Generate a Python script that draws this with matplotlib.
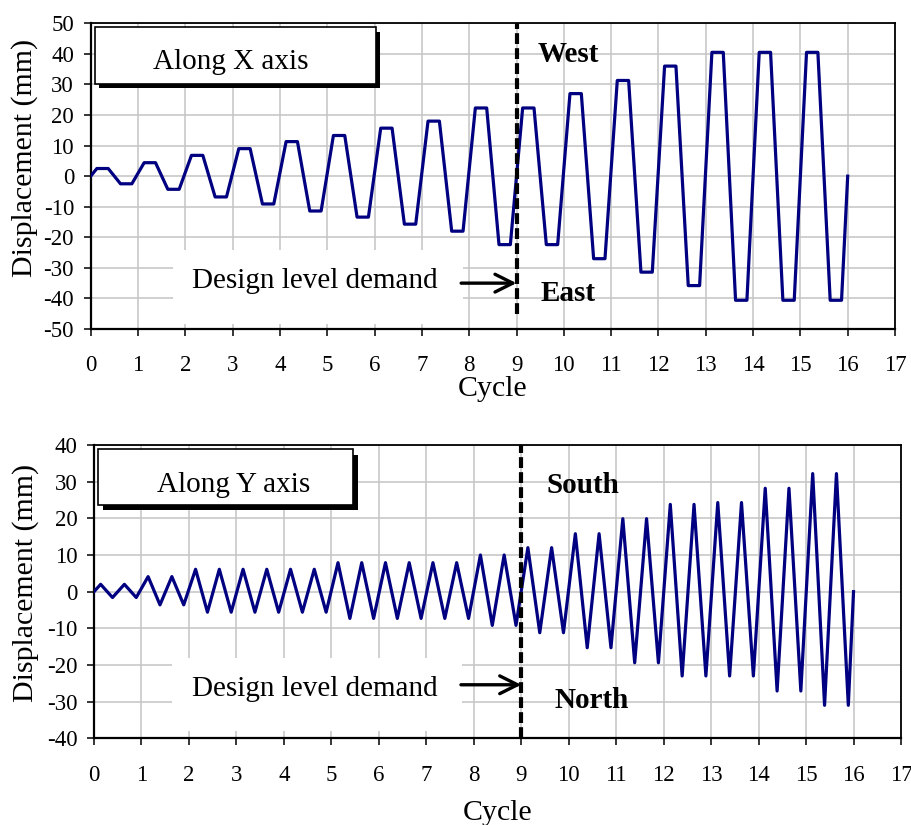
import matplotlib
matplotlib.use('Agg')
import matplotlib.pyplot as plt
from matplotlib.patches import Rectangle

plt.rcParams['font.family'] = ['Liberation Serif', 'DejaVu Serif']
plt.rcParams['axes.unicode_minus'] = False

# ---------------- data ----------------
n_cycles = 16
# Along X axis: trapezoidal cycles (plateau values per cycle)
x_peaks = [2.5, 4.4, 6.8, 9.0, 11.3, 13.3, 15.7, 18.0, 22.3, 22.3, 27.0, 31.3, 36.0, 40.5, 40.5, 40.5]
x_troughs = [-2.5, -4.3, -6.8, -9.1, -11.4, -13.4, -15.7, -18.0, -22.4, -22.4, -27.0, -31.4, -35.8, -40.6, -40.6, -40.6]
# Along Y axis: two triangular sub-cycles per cycle
y_peaks = [2.0, 4.1, 6.1, 6.1, 6.1, 7.9, 7.9, 7.9, 10.0, 12.0, 15.8, 19.9, 23.8, 24.3, 28.2, 32.2]
y_troughs = [-1.6, -3.6, -5.6, -5.6, -5.6, -7.3, -7.3, -7.3, -9.2, -11.2, -15.3, -19.4, -23.0, -23.0, -27.1, -31.0]

x_ticks = list(range(0, 18))
top_yticks = list(range(-50, 51, 10))
bot_yticks = list(range(-40, 41, 10))
design_cycle = 9


def trapezoid(peaks, troughs):
    xs, ys = [0], [0]
    for c, (p, q) in enumerate(zip(peaks, troughs)):
        xs += [c + 0.13, c + 0.37, c + 0.63, c + 0.87]
        ys += [p, p, q, q]
    xs.append(len(peaks)); ys.append(0)
    return xs, ys


def triangle(peaks, troughs):
    xs, ys = [0], [0]
    for c, (p, q) in enumerate(zip(peaks, troughs)):
        xs += [c + 0.14, c + 0.39, c + 0.64, c + 0.89]
        ys += [p, q, p, q]
    xs.append(len(peaks)); ys.append(0)
    return xs, ys


W, H = 912, 825
fig = plt.figure(figsize=(W / 100, H / 100), dpi=100)

ax1 = fig.add_axes([90.7 / W, 1 - 329 / H, (895 - 90.7) / W, (329 - 23.3) / H])
ax2 = fig.add_axes([94 / W, 1 - 738.3 / H, (901 - 94) / W, (738.3 - 445) / H])

line_color = '#000080'
grid_color = '#c4c4c4'
tick_fs = 16.5
label_fs = 21.5
text_fs = 21


def style(ax, yticks):
    ax.set_xlim(0, 17)
    ax.set_ylim(yticks[0], yticks[-1])
    ax.set_xticks(x_ticks)
    ax.set_yticks(yticks)
    ax.set_axisbelow(True)
    ax.grid(True, color=grid_color, lw=1.1)
    for s in ax.spines.values():
        s.set_color('black')
        s.set_linewidth(1.3)
    ax.spines['left'].set_linewidth(1.6)
    ax.spines['bottom'].set_linewidth(1.6)
    ax.tick_params(axis='both', direction='out', length=5, width=1.1,
                   labelsize=tick_fs, color='black')
    ax.tick_params(axis='x', pad=14)
    ax.tick_params(axis='y', pad=7)


def title_box(ax, x0, y0, w, h, dx, dy, text, tx, ty):
    ax.add_patch(Rectangle((x0 + dx, y0 - dy), w, h, facecolor='black',
                           edgecolor='black', lw=0, zorder=4))
    ax.add_patch(Rectangle((x0, y0), w, h, facecolor='white',
                           edgecolor='black', lw=1.2, zorder=5))
    ax.text(tx, ty, text, fontsize=text_fs, ha='center', va='baseline', zorder=6)


# ---------------- top chart ----------------
style(ax1, top_yticks)
xs, ys = trapezoid(x_peaks, x_troughs)
ax1.plot(xs, ys, color=line_color, lw=2.3, zorder=3)
ax1.vlines(design_cycle, -45, 50, colors='black', lw=3,
           linestyles=(0, (2.6, 1.0)), zorder=4)
ax1.add_patch(Rectangle((1.73, -48.3), 7.86 - 1.73, 24.0, facecolor='white',
                        edgecolor='none', zorder=1))
ax1.text(4.74, -36.6, 'Design level demand', fontsize=text_fs, ha='center',
         va='baseline', zorder=6)
ax1.annotate('', xy=(design_cycle, -35), xytext=(7.83, -35),
             arrowprops=dict(arrowstyle='->', lw=2.4, color='black',
                             mutation_scale=32, shrinkA=0, shrinkB=0), zorder=6)
ax1.text(10.1, 37.3, 'West', fontsize=text_fs, fontweight='bold', ha='center',
         va='baseline')
ax1.text(10.1, -40.7, 'East', fontsize=text_fs, fontweight='bold', ha='center',
         va='baseline')
title_box(ax1, 0.084, 30.3, 5.94, 18.4, 0.09, 1.6, 'Along X axis', 2.97, 35.2)
ax1.set_xlabel('Cycle', fontsize=label_fs)
ax1.set_ylabel('Displacement (mm)', fontsize=label_fs)
ax1.xaxis.set_label_coords(0.5, -0.155)
ax1.yaxis.set_label_coords(-0.065, 0.56)

# ---------------- bottom chart ----------------
style(ax2, bot_yticks)
xs, ys = triangle(y_peaks, y_troughs)
ax2.plot(xs, ys, color=line_color, lw=2.3, zorder=3)
ax2.vlines(design_cycle, -40, 40, colors='black', lw=3,
           linestyles=(0, (2.6, 1.0)), zorder=4)
ax2.add_patch(Rectangle((1.64, -38), 7.75 - 1.64, 20, facecolor='white',
                        edgecolor='none', zorder=1))
ax2.text(4.66, -28.4, 'Design level demand', fontsize=text_fs, ha='center',
         va='baseline', zorder=6)
ax2.annotate('', xy=(design_cycle, -25.4), xytext=(7.73, -25.4),
             arrowprops=dict(arrowstyle='->', lw=2.4, color='black',
                             mutation_scale=32, shrinkA=0, shrinkB=0), zorder=6)
ax2.text(10.31, 27.0, 'South', fontsize=text_fs, fontweight='bold', ha='center',
         va='baseline')
ax2.text(10.49, -31.6, 'North', fontsize=text_fs, fontweight='bold', ha='center',
         va='baseline')
title_box(ax2, 0.09, 23.6, 5.37, 15.2, 0.095, 1.45, 'Along Y axis', 2.94, 27.2)
ax2.set_xlabel('Cycle', fontsize=label_fs)
ax2.set_ylabel('Displacement (mm)', fontsize=label_fs)
ax2.xaxis.set_label_coords(0.5, -0.21)
ax2.yaxis.set_label_coords(-0.068, 0.53)

fig.savefig('out.png', dpi=100)
